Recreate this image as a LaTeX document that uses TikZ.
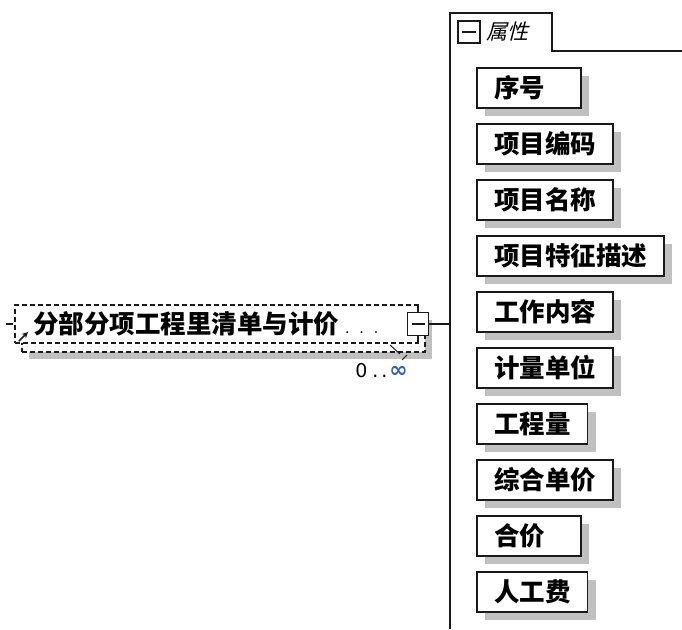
\documentclass[tikz,border=0pt]{standalone}
\usepackage{fontspec}
\setmainfont{DejaVu Sans}
\newfontfamily\cjk{Noto Sans CJK SC}
\newfontfamily\cjkslant{Noto Sans CJK SC}[FakeSlant=0.25]
\usepackage{tikz}
\usetikzlibrary{arrows.meta,positioning,shadows}
\definecolor{edgeblack}{HTML}{1A1A1A}
\definecolor{shadowgray}{HTML}{C0C0C0}
\definecolor{infblue}{HTML}{3A5FA8}

\begin{document}
\begin{tikzpicture}[
    x=1pt, y=-1pt,
    font=\cjk\bfseries\fontsize{25.5pt}{28pt}\selectfont,
    node distance=16pt,
    attr/.style={draw=edgeblack, line width=1.8pt, fill=white, anchor=north west, outer sep=0pt,
      inner xsep=17pt, inner ysep=0pt, minimum height=40pt, text height=21pt, text depth=2pt,
      drop shadow={shadow xshift=8pt, shadow yshift=-8pt, fill=shadowgray, opacity=1}},
    shortbox/.style={text width=70pt},
    elembox/.style={draw=edgeblack, line width=1.5pt, dash pattern=on 5pt off 3pt, fill=white,
      anchor=north west, inner sep=0pt, outer sep=0pt, minimum width=403pt, minimum height=38pt},
    toggle/.style={draw=edgeblack, line width=1.6pt, fill=white, inner sep=0pt, outer sep=0pt,
      minimum width=21pt, minimum height=23pt}
]
\useasboundingbox (0,0) rectangle (682,629);

% property group
\coordinate (grouptl) at (450,13);
\coordinate (groupbl) at (450,629);
\draw[edgeblack, line width=1.5pt] (groupbl) -- (grouptl) -- (552,13) -- (552,51) -- (682,51);
\node[toggle, minimum width=22pt, minimum height=22pt] (tabtoggle) at (469,32) {};
\draw[edgeblack, line width=1.5pt] ([xshift=4pt]tabtoggle.west) -- ([xshift=-4pt]tabtoggle.east);
\node[right=6pt of tabtoggle, inner sep=0pt, font=\cjkslant\fontsize{21pt}{24pt}\selectfont] (tabtitle) {属性};

% attributes
\node[attr, shortbox] (xuhao) at (477,68) {序号};
\node[attr, below right=16pt and 0pt of xuhao.south west] (bianma) {项目编码};
\node[attr, below right=16pt and 0pt of bianma.south west] (mingcheng) {项目名称};
\node[attr, below right=16pt and 0pt of mingcheng.south west] (tezheng) {项目特征描述};
\node[attr, below right=16pt and 0pt of tezheng.south west] (neirong) {工作内容};
\node[attr, below right=16pt and 0pt of neirong.south west] (danwei) {计量单位};
\node[attr, below right=16pt and 0pt of danwei.south west] (gcl) {工程量};
\node[attr, below right=16pt and 0pt of gcl.south west] (zhdj) {综合单价};
\node[attr, shortbox, below right=16pt and 0pt of zhdj.south west] (hejia) {合价};
\node[attr, below right=16pt and 0pt of hejia.south west] (rgf) {人工费};

% element
\node[elembox, minimum height=39pt,
  drop shadow={shadow xshift=7pt, shadow yshift=-7pt, fill=shadowgray, opacity=1}] (elemrear) at (22,313) {};
\node[elembox, inner xsep=18pt, text width=367pt, text height=21pt, text depth=2pt] (elem) at (15,305)
  {分部分项工程里清单与计价{\normalfont\mdseries\fontsize{14pt}{14pt}\selectfont\hspace{6pt}.\hspace{10pt}.\hspace{10pt}.}};
\node[toggle] (elemtoggle) at (elem.east) {};
\draw[edgeblack, line width=1.5pt] ([xshift=4pt]elemtoggle.west) -- ([xshift=-4pt]elemtoggle.east);
\draw[edgeblack, line width=1.3pt] (elemtoggle.north) -- (elemtoggle.north |- elem.north);
\draw[edgeblack, line width=1.3pt] (elemtoggle.south) -- (elemtoggle.south |- elem.south);
\draw[edgeblack, line width=1.5pt] (elemtoggle.east) -- (elemtoggle.east -| grouptl);
\coordinate (elemin) at (6,324);
\draw[edgeblack, line width=1.5pt] (elemin) -- ++(7,0);
\draw[edgeblack, line width=1.5pt, -{Stealth[length=6pt,width=6pt]}] (19,341) -- (28,332);

% occurrence
\draw[edgeblack, line width=1pt] (390,345) -- (400,354);
\draw[edgeblack, line width=1pt] (402,360) -- (407,355);
\node[anchor=east, inner sep=0pt, font=\normalfont\fontsize{19pt}{20pt}\selectfont] (occurs) at (408,371)
  {0\hspace{5pt}.\hspace{3pt}.\hspace{2pt}{\color{infblue}\bfseries\fontsize{22pt}{22pt}\selectfont ∞}};
\end{tikzpicture}
\end{document}
